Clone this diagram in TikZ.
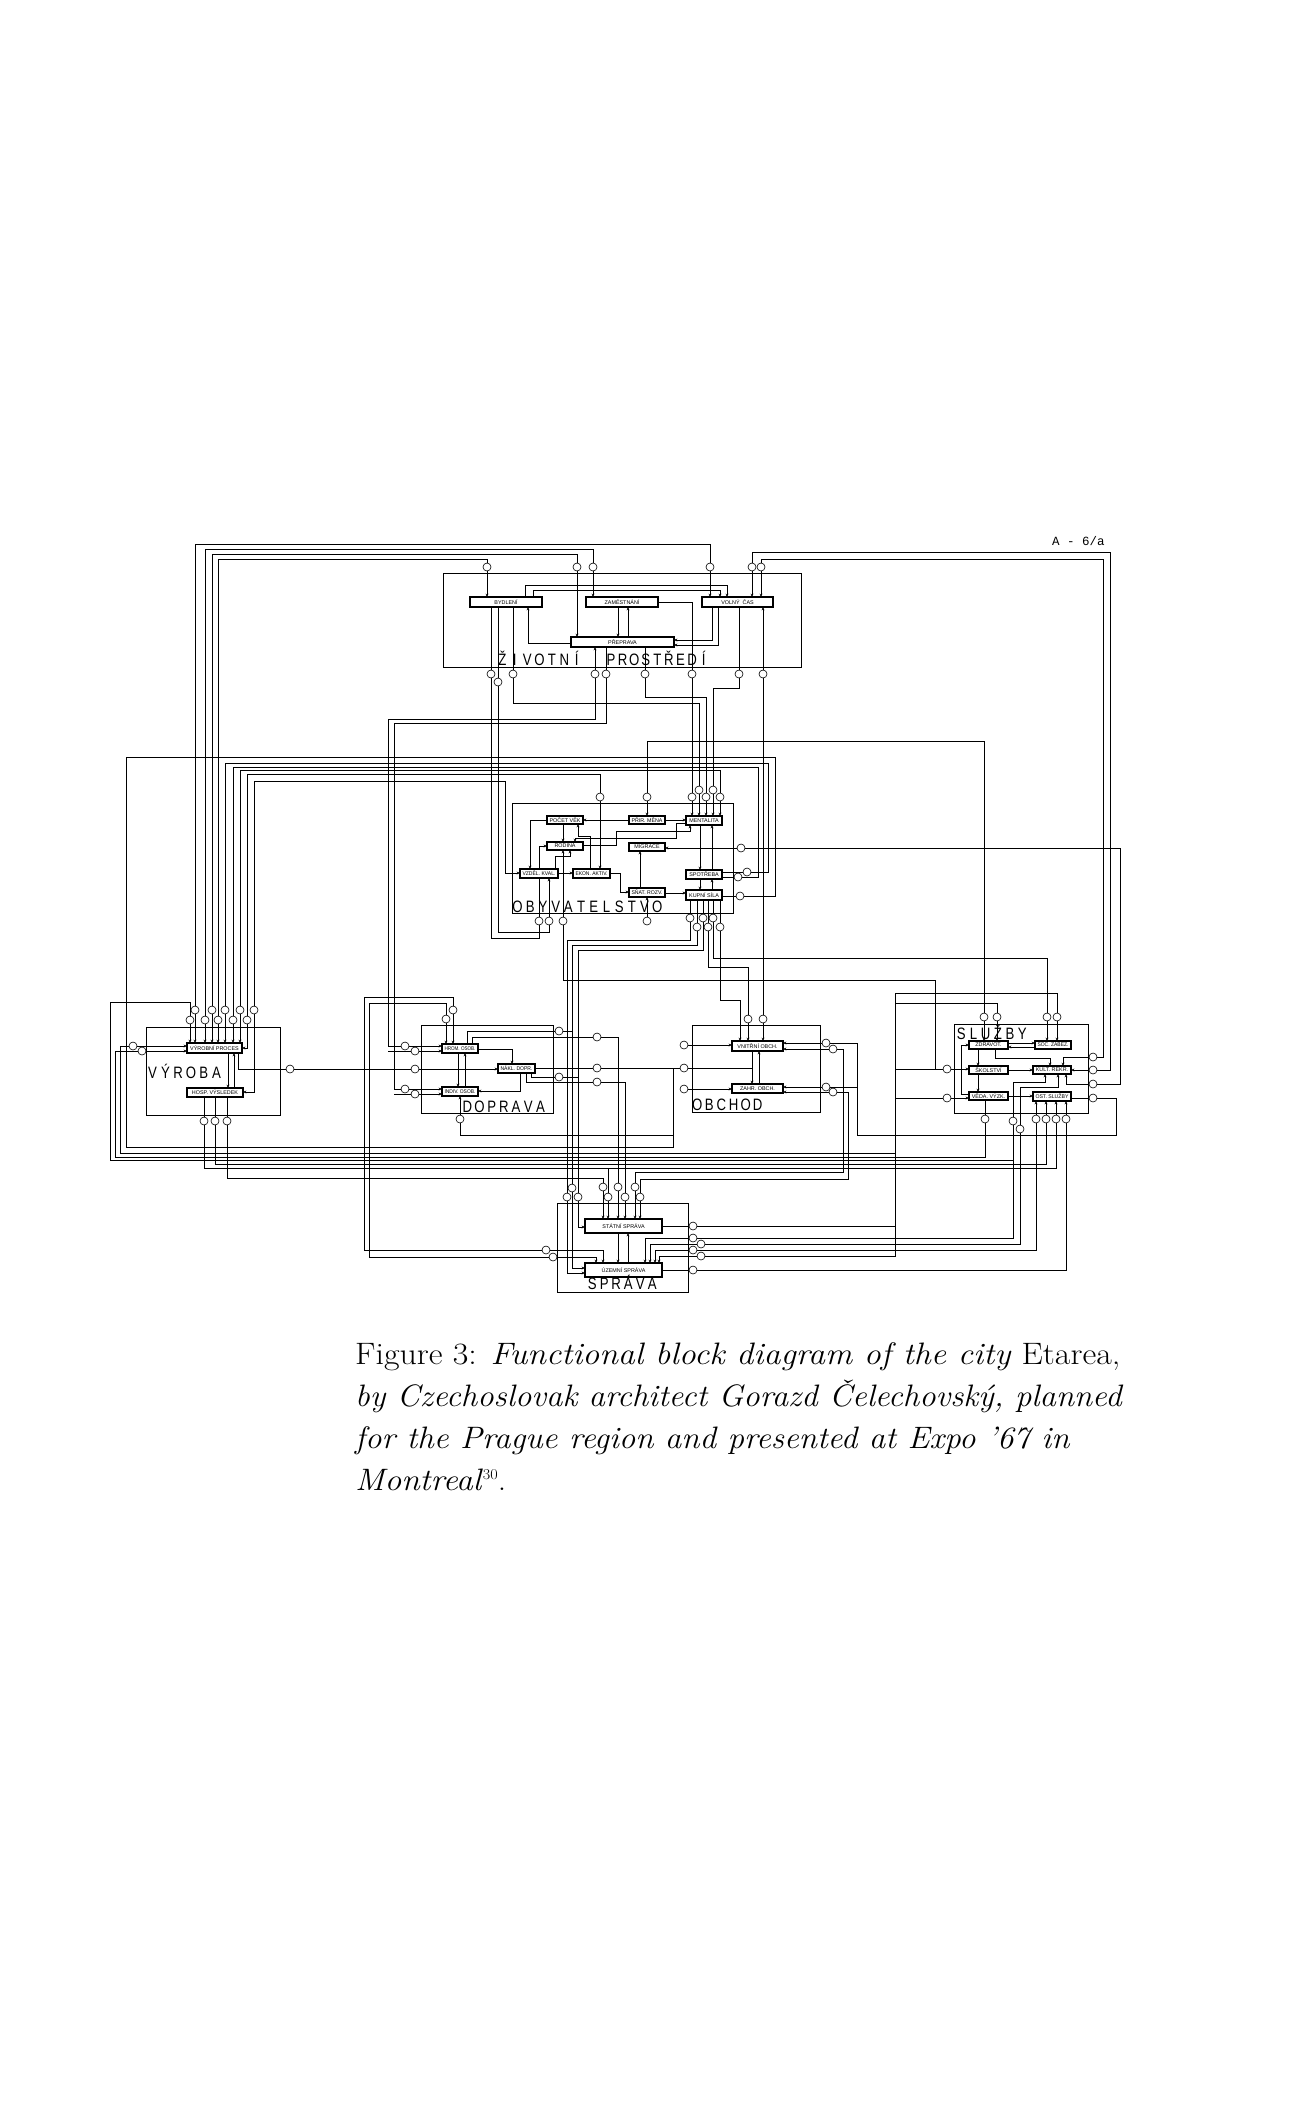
\documentclass[tikz,border=0pt]{standalone}
\usepackage{fontspec}
\usepackage{graphicx}
\newfontfamily\lblfont{Liberation Sans}
\newfontfamily\monofont{Liberation Mono}
\usetikzlibrary{arrows.meta}
\makeatletter
\newcommand\spc[2]{\def\spc@w{#1}\spc@a#2\@nil}
\def\spc@a#1{\ifx#1\@nil\else\makebox[\spc@w]{\scalebox{0.8}[1]{#1}}\expandafter\spc@a\fi}
\makeatother
\newsavebox\fitbox
\newcommand\fitto[2]{\sbox\fitbox{#2}\ifdim\wd\fitbox>#1\relax\resizebox{#1}{\height}{\usebox\fitbox}\else\usebox\fitbox\fi}
\tikzset{
 blk/.style={draw, line width=0.9pt},
 ibx/.style={draw, fill=white, line width=1.1pt},
 ibt/.style={inner sep=0pt, font=\lblfont\fontsize{5.4}{5.6}\selectfont},
 w/.style={line width=0.75pt},
 ar/.style={w,-{Stealth[length=3.4pt,width=2.8pt]}},
 cir/.style={draw, circle, line width=0.6pt, fill=white, minimum size=8pt, inner sep=0pt},
 big/.style={anchor=base west, inner sep=0pt, font=\lblfont\fontsize{16.5}{16.5}\selectfont},
 captxt/.style={anchor=base west, inner sep=0pt, font=\fontsize{31}{31}\selectfont},
}
\newcommand\ibox[6]{\draw[ibx] (#2,#3) rectangle (#4,#5);
  \pgfmathsetmacro\ibw{#4-#2-5}
  \node[ibt] (#1) at ({(#2+#4)/2},{(#3+#5)/2}) {\fitto{\ibw pt}{#6}};}
\begin{document}
\begin{tikzpicture}[x=1pt,y=-1pt]
\fill[white] (0,0) rectangle (1300,2126);
\useasboundingbox (0,0) rectangle (1300,2126);

% ---------- outer blocks ----------
\draw[blk] (443,573) rectangle (801,667);
\draw[blk] (512,803) rectangle (733,913);
\draw[blk] (146,1027) rectangle (280,1115);
\draw[blk] (421,1025) rectangle (553,1113);
\draw[blk] (692,1025) rectangle (820,1112);
\draw[blk] (954,1024) rectangle (1088,1113);
\draw[blk] (557,1203) rectangle (688,1292);

% ---------- ZIVOTNI PROSTREDI internal ----------
\draw[ar] (487,567) -- (487,597);
\draw[ar] (577,567) -- (577,637);
\draw[ar] (593,567) -- (593,597);
\draw[ar] (710,567) -- (710,597);
\draw[ar] (752,567) -- (752,597);
\draw[ar] (761,567) -- (761,597);
\draw[ar] (525,597) -- (525,585) -- (727,585) -- (727,597);
\draw[ar] (533,597) -- (533,590) -- (720,590) -- (720,597);
\draw[ar] (571,643) -- (528,643) -- (528,607);
\draw[ar] (618,607) -- (618,637);
\draw[ar] (628,637) -- (628,607);
\draw[w] (658,602) -- (692,602) -- (692,674);
\draw[ar] (712,607) -- (712,640) -- (674,640);
\draw[ar] (718,607) -- (718,645) -- (674,645);
\draw[w] (739,607) -- (739,674);
\draw[ar] (763,674) -- (763,607);
\draw[w] (491,607) -- (491,674);
\draw[w] (498,607) -- (498,682);
\draw[w] (513,607) -- (513,674);
\draw[ar] (595,674) -- (595,647);
\draw[w] (606,647) -- (606,674);
\draw[w] (645,647) -- (645,674);

% ---------- ZP outgoing ----------
\draw[w] (491,674) -- (491,938) -- (539,938) -- (539,921);
\draw[w] (498,682) -- (498,932) -- (549,932) -- (549,921);
\draw[w] (513,674) -- (513,703) -- (699,703) -- (699,790);
\draw[w] (595,674) -- (595,719) -- (388,719) -- (388,1046) -- (405,1046);
\draw[w] (606,674) -- (606,723) -- (394,723) -- (394,1089) -- (405,1089);
\draw[w] (645,674) -- (645,697) -- (706,697) -- (706,797);
\draw[w] (692,674) -- (692,797);
\draw[w] (739,674) -- (739,688) -- (713,688) -- (713,790);
\draw[w] (763,674) -- (763,1019);

% ---------- top bundle (Vyroba - ZP) ----------
\draw[w] (195,1010) -- (195,544) -- (710,544) -- (710,567);
\draw[w] (205,1020) -- (205,549) -- (593,549) -- (593,567);
\draw[w] (212,1010) -- (212,554) -- (577,554) -- (577,567);
\draw[w] (218,1020) -- (218,559) -- (487,559) -- (487,567);
\draw[w] (752,567) -- (752,552) -- (1110,552) -- (1110,1070) -- (1093,1070);
\draw[w] (761,567) -- (761,559) -- (1103,559) -- (1103,1057) -- (1093,1057);

% ---------- middle bundle ----------
\draw[w] (740,896) -- (775,896) -- (775,757) -- (126,757) -- (126,1147) -- (673,1147) -- (673,1068);
\draw[w] (225,1010) -- (225,763) -- (768,763) -- (768,872) -- (747,872);
\draw[w] (233,1020) -- (233,767) -- (758,767) -- (758,877) -- (738,877);
\draw[w] (240,1010) -- (240,770) -- (720,770) -- (720,797);
\draw[w] (247,1020) -- (247,774) -- (600,774) -- (600,797);
\draw[ar] (254,1010) -- (254,781) -- (505,781) -- (505,873) -- (520,873);
\draw[w] (647,797) -- (647,741) -- (984,741) -- (984,1017);
\draw[w] (741,848) -- (1120,848) -- (1120,1084) -- (1093,1084);
\draw[w] (1093,1098) -- (1116,1098) -- (1116,1135) -- (895,1135);

% ---------- OBYVATELSTVO internal ----------
\draw[ar] (692,797) -- (692,816);
\draw[ar] (699,790) -- (699,816);
\draw[ar] (706,797) -- (706,816);
\draw[ar] (713,790) -- (713,816);
\draw[ar] (720,797) -- (720,816);
\draw[ar] (600,797) -- (600,869);
\draw[ar] (647,797) -- (647,816);
\draw[ar] (547,820) -- (530,820) -- (530,869);
\draw[ar] (629,820) -- (583,820);
\draw[ar] (665,820) -- (686,820);
\draw[ar] (563,824) -- (563,842);
\draw[ar] (539,921) -- (539,846) -- (547,846);
\draw[ar] (549,921) -- (549,878);
\draw[ar] (563,921) -- (563,850);
\draw[ar] (558,873) -- (573,873);
\draw[ar] (610,873) -- (620,873) -- (620,892) -- (629,892);
\draw[ar] (665,893) -- (686,893);
\draw[ar] (700,825) -- (700,870);
\draw[ar] (712,870) -- (712,825);
\draw[ar] (700,879) -- (700,890);
\draw[ar] (712,890) -- (712,879);
\draw[ar] (741,848) -- (665,848);
\draw[ar] (647,921) -- (647,897);
\draw[ar] (583,845) -- (616,845) -- (616,831) -- (690,831) -- (690,825);
\draw[ar] (686,823) -- (676,823) -- (676,838) -- (575,838) -- (575,842);
\draw[ar] (590,869) -- (590,836) -- (578,836) -- (578,824);
\draw[ar] (640,888) -- (640,851);
\draw[ar] (555,869) -- (555,856) -- (570,856) -- (570,850);
\draw[w] (722,872) -- (747,872);
\draw[w] (722,877) -- (738,877);
\draw[w] (722,896) -- (740,896);
\foreach \x/\y in {690/918,697/927,703/918,708/927,713/918,720/927} \draw[w] (\x,900) -- (\x,\y);

% ---------- OBY bottom outgoing ----------
\draw[w] (690,918) -- (690,940) -- (567,940) -- (567,1197);
\draw[w] (697,927) -- (697,945) -- (572,945) -- (572,1188);
\draw[w] (703,918) -- (703,950) -- (578,950) -- (578,1197);
\draw[w] (708,927) -- (708,967) -- (748,967) -- (748,1019);
\draw[w] (713,918) -- (713,958) -- (1047,958) -- (1047,1017);
\draw[ar] (720,927) -- (720,1000) -- (740,1000) -- (740,1041);
\draw[w] (563,921) -- (563,980) -- (935,980) -- (935,1069) -- (947,1069);

% ---------- VYROBA internal ----------
\foreach \x in {195,212,225,240} \draw[ar] (\x,1010) -- (\x,1043);
\foreach \x in {190,205,218,233} \draw[ar] (\x,1020) -- (\x,1043);
\draw[ar] (247,1020) -- (247,1048) -- (242,1048);
\draw[ar] (254,1010) -- (254,1092) -- (243,1092);
\draw[ar] (133,1046) -- (187,1046);
\draw[ar] (142,1051) -- (187,1051);
\draw[ar] (228,1053) -- (228,1088);
\draw[ar] (234,1088) -- (234,1053);
\draw[w] (238,1053) -- (238,1069) -- (290,1069);
\foreach \x in {204,215,227} \draw[w] (\x,1097) -- (\x,1121);
\draw[w] (133,1046) -- (120,1046) -- (120,1153) -- (895,1153);
\draw[w] (142,1051) -- (115,1051) -- (115,1157) -- (985,1157) -- (985,1119);
\draw[w] (190,1020) -- (190,1002) -- (110,1002) -- (110,1160) -- (1013,1160);
\draw[w] (215,1121) -- (215,1164) -- (1046,1164) -- (1046,1119);
\draw[w] (204,1121) -- (204,1168) -- (1056,1168) -- (1056,1119);
\draw[w] (227,1121) -- (227,1178) -- (603,1178) -- (603,1187);
\draw[w] (290,1069) -- (415,1069);

% ---------- DOPRAVA internal ----------
\draw[ar] (453,1010) -- (453,1044);
\draw[ar] (446,1019) -- (446,1044);
\draw[ar] (405,1046) -- (442,1046);
\draw[ar] (415,1051) -- (442,1051);
\draw[ar] (405,1089) -- (442,1089);
\draw[ar] (415,1094) -- (442,1094);
\draw[w] (415,1051) -- (388,1051);
\draw[w] (415,1094) -- (394,1094);
\draw[ar] (458,1053) -- (458,1087);
\draw[ar] (465,1087) -- (465,1053);
\draw[ar] (478,1049) -- (512,1049) -- (512,1064);
\draw[ar] (415,1069) -- (498,1069);
\draw[ar] (520,1073) -- (520,1091) -- (478,1091);
\draw[w] (467,1044) -- (467,1031) -- (559,1031);
\draw[w] (472,1044) -- (472,1037) -- (597,1037);
\draw[w] (535,1068) -- (597,1068);
\draw[w] (531,1073) -- (531,1077) -- (559,1077);
\draw[w] (526,1073) -- (526,1082) -- (597,1082);
\draw[ar] (460,1119) -- (460,1096);
\draw[w] (559,1031) -- (572,1031);
\draw[w] (559,1077) -- (578,1077);
\draw[w] (597,1037) -- (618,1037) -- (618,1187);
\draw[w] (597,1068) -- (684,1068);
\draw[w] (597,1082) -- (625,1082) -- (625,1197);
\draw[w] (460,1119) -- (460,1135) -- (673,1135) -- (673,1068);
\draw[w] (453,1010) -- (453,997) -- (364,997) -- (364,1250) -- (546,1250);
\draw[w] (446,1019) -- (446,1003) -- (369,1003) -- (369,1257) -- (553,1257);

% ---------- OBCHOD internal ----------
\draw[ar] (748,1019) -- (748,1041);
\draw[ar] (763,1019) -- (763,1041);
\draw[ar] (752,1051) -- (752,1084);
\draw[ar] (759,1084) -- (759,1051);
\draw[ar] (684,1045) -- (732,1045);
\draw[w] (684,1068) -- (752,1068);
\draw[ar] (684,1089) -- (732,1089);
\draw[ar] (826,1043) -- (783,1043);
\draw[ar] (833,1049) -- (783,1049);
\draw[ar] (826,1087) -- (783,1087);
\draw[ar] (833,1092) -- (783,1092);
\draw[w] (826,1043) -- (857,1043) -- (857,1135) -- (895,1135);
\draw[w] (833,1049) -- (843,1049) -- (843,1172) -- (635,1172) -- (635,1187);
\draw[w] (826,1087) -- (857,1087);
\draw[w] (833,1092) -- (848,1092) -- (848,1179) -- (640,1179) -- (640,1197);

% ---------- SLUZBY internal ----------
\foreach \x in {984,997,1047,1057} \draw[ar] (\x,1017) -- (\x,1041);
\draw[ar] (1008,1043) -- (1035,1043);
\draw[ar] (1035,1047) -- (1008,1047);
\draw[ar] (969,1094) -- (961,1094) -- (961,1045) -- (969,1045);
\draw[ar] (947,1069) -- (969,1069);
\draw[ar] (947,1098) -- (969,1098);
\draw[w] (947,1069) -- (895,1069);
\draw[w] (947,1098) -- (895,1098);
\draw[ar] (995,1049) -- (995,1058) -- (1050,1058) -- (1050,1066);
\draw[ar] (978,1049) -- (978,1066);
\draw[ar] (978,1074) -- (978,1092);
\draw[ar] (1008,1070) -- (1033,1070);
\draw[ar] (1008,1096) -- (1033,1096);
\draw[ar] (1093,1057) -- (1063,1057) -- (1063,1066);
\draw[ar] (1093,1070) -- (1071,1070);
\draw[ar] (1093,1084) -- (1066,1084) -- (1066,1074);
\draw[w] (1071,1098) -- (1093,1098);
\draw[w] (985,1100) -- (985,1119);
\draw[ar] (1013,1121) -- (1013,1082) -- (1045,1082) -- (1045,1074);
\draw[ar] (1020,1129) -- (1020,1087) -- (1058,1087) -- (1058,1074);
\foreach \x in {1036,1046,1056,1066} \draw[ar] (\x,1119) -- (\x,1101);
\draw[w] (895,993) -- (1057,993) -- (1057,1017);
\draw[w] (895,1003) -- (997,1003) -- (997,1017);

% ---------- SPRAVA internal ----------
\foreach \x in {603,618,635} \draw[ar] (\x,1187) -- (\x,1219);
\foreach \x in {608,625,640} \draw[ar] (\x,1197) -- (\x,1219);
\draw[w] (608,1168) -- (608,1197);
\draw[ar] (578,1197) -- (578,1227) -- (585,1227);
\draw[ar] (572,1188) -- (572,1268) -- (585,1268);
\draw[ar] (567,1197) -- (567,1273) -- (585,1273);
\draw[ar] (546,1250) -- (603,1250) -- (603,1263);
\draw[ar] (553,1257) -- (596,1257) -- (596,1263);
\draw[ar] (618,1233) -- (618,1263);
\draw[ar] (628,1263) -- (628,1233);
\draw[w] (662,1226) -- (693,1226);
\draw[ar] (693,1238) -- (645,1238) -- (645,1263);
\draw[ar] (701,1244) -- (650,1244) -- (650,1263);
\draw[ar] (693,1250) -- (655,1250) -- (655,1263);
\draw[ar] (701,1256) -- (659,1256) -- (659,1263);
\draw[w] (662,1270) -- (693,1270);
\draw[w] (693,1238) -- (1013,1238) -- (1013,1121);
\draw[w] (701,1244) -- (1020,1244) -- (1020,1129);
\draw[w] (693,1250) -- (1036,1250) -- (1036,1119);
\draw[w] (701,1256) -- (895,1256) -- (895,993);
\draw[w] (693,1270) -- (1066,1270) -- (1066,1119);
\draw[w] (693,1226) -- (895,1226);

% ---------- inner boxes ----------
\ibox{byd}{470}{597}{542}{607}{BYDLENÍ}
\ibox{zam}{586}{597}{658}{607}{ZAMĚSTNÁNÍ}
\ibox{vol}{702}{597}{773}{607}{VOLNÝ \ ČAS}
\ibox{pre}{571}{637}{674}{647}{PŘEPRAVA}
\ibox{pv}{547}{816}{583}{824}{POČET VĚK}
\ibox{pm}{629}{816}{665}{824}{PŘIR. MĚNA}
\ibox{men}{686}{816}{722}{825}{MENTALITA}
\ibox{rod}{547}{842}{583}{850}{RODINA}
\ibox{mig}{629}{843}{665}{851}{MIGRACE}
\ibox{vk}{520}{869}{558}{878}{VZDĚL. KVAL.}
\ibox{ea}{573}{869}{610}{878}{EKON. AKTIV.}
\ibox{sp}{686}{870}{722}{879}{SPOTŘEBA}
\ibox{sr}{629}{888}{665}{897}{SŇAT. ROZV.}
\ibox{ks}{686}{890}{722}{900}{KUPNÍ SÍLA}
\ibox{vyp}{187}{1043}{242}{1053}{VÝROBNÍ PROCES}
\ibox{hos}{187}{1088}{243}{1097}{HOSP. VÝSLEDEK}
\ibox{hro}{442}{1044}{478}{1053}{HROM. OSOB.}
\ibox{nak}{498}{1064}{535}{1073}{NÁKL. DOPR.}
\ibox{ind}{442}{1087}{478}{1096}{INDIV. OSOB.}
\ibox{vni}{732}{1041}{783}{1051}{VNITŘNÍ OBCH.}
\ibox{zah}{732}{1084}{783}{1093}{ZAHR. OBCH.}
\ibox{zdr}{969}{1041}{1008}{1049}{ZDRAVOT.}
\ibox{soc}{1035}{1041}{1071}{1049}{SOC. ZABEZ.}
\ibox{sko}{969}{1066}{1008}{1074}{ŠKOLSTVÍ}
\ibox{kul}{1033}{1066}{1071}{1074}{KULT. REKR.}
\ibox{ved}{969}{1092}{1008}{1100}{VĚDA. VÝZK.}
\ibox{ost}{1033}{1092}{1071}{1101}{OST. SLUŽBY}
\ibox{sta}{585}{1219}{662}{1233}{STÁTNÍ SPRÁVA}
\ibox{uze}{585}{1263}{662}{1277}{ÚZEMNÍ SPRÁVA}

% ---------- circles ----------
\foreach \x/\y [count=\i] in {487/567,577/567,593/567,710/567,752/567,761/567,
  491/674,498/682,513/674,595/674,606/674,645/674,692/674,739/674,763/674}
  \node[cir] (cz\i) at (\x,\y) {};
\foreach \x/\y [count=\i] in {600/797,647/797,692/797,699/790,706/797,713/790,720/797,
  741/848,747/872,738/877,740/896,539/921,549/921,563/921,647/921,
  690/918,697/927,703/918,708/927,713/918,720/927}
  \node[cir] (co\i) at (\x,\y) {};
\foreach \x/\y [count=\i] in {195/1010,212/1010,225/1010,240/1010,254/1010,
  190/1020,205/1020,218/1020,233/1020,247/1020,133/1046,142/1051,290/1069,
  204/1121,215/1121,227/1121}
  \node[cir] (cv\i) at (\x,\y) {};
\foreach \x/\y [count=\i] in {453/1010,446/1019,405/1046,415/1051,415/1069,405/1089,415/1094,
  460/1119,559/1031,559/1077,597/1037,597/1068,597/1082}
  \node[cir] (cd\i) at (\x,\y) {};
\foreach \x/\y [count=\i] in {748/1019,763/1019,684/1045,684/1068,684/1089,
  826/1043,833/1049,826/1087,833/1092}
  \node[cir] (cb\i) at (\x,\y) {};
\foreach \x/\y [count=\i] in {984/1017,997/1017,1047/1017,1057/1017,
  1093/1057,1093/1070,1093/1084,1093/1098,947/1069,947/1098,
  985/1119,1013/1121,1020/1129,1036/1119,1046/1119,1056/1119,1066/1119}
  \node[cir] (cs\i) at (\x,\y) {};
\foreach \x/\y [count=\i] in {603/1187,618/1187,635/1187,608/1197,625/1197,640/1197,
  572/1188,567/1197,578/1197,546/1250,553/1257,
  693/1226,693/1238,701/1244,693/1250,701/1256,693/1270}
  \node[cir] (cp\i) at (\x,\y) {};

% ---------- big labels ----------
\node[big] (lzp1) at (496,665) {\spc{12.4pt}{ŽIVOTNÍ}};
\node[big] (lzp2) at (605,665) {\spc{11.6pt}{PROSTŘEDÍ}};
\node[big] (loby) at (511,912) {\spc{12.7pt}{OBYVATELSTVO}};
\node[big] (lvyr) at (146,1078) {\spc{12.8pt}{VÝROBA}};
\node[big] (ldop) at (461,1112) {\spc{12.2pt}{DOPRAVA}};
\node[big] (lobc) at (691,1110) {\spc{12.1pt}{OBCHOD}};
\node[big] (lslu) at (955,1039) {\spc{12.2pt}{SLUŽBY}};
\node[big] (lspr) at (586,1289) {\spc{12pt}{SPRÁVA}};
\node[anchor=base west, inner sep=0pt, font=\monofont\fontsize{12.5}{12.5}\selectfont] (ref) at (1052,545) {A - 6/a};

% ---------- caption ----------
\node[captxt] (cap1) at (355,1364) {\resizebox{765pt}{\height}{Figure 3: \textit{Functional block diagram of the city} Etarea,}};
\node[captxt] (cap2) at (355,1406) {\resizebox{768pt}{\height}{\textit{by Czechoslovak architect Gorazd Čelechovský, planned}}};
\node[captxt] (cap3) at (355,1448) {\resizebox{715pt}{\height}{\textit{for the Prague region and presented at Expo ’67 in}}};
\node[captxt] (cap4) at (355,1490) {\resizebox{151pt}{\height}{\textit{Montreal}\raisebox{11pt}{\fontsize{15}{15}\selectfont 30}.}};
\end{tikzpicture}
\end{document}
